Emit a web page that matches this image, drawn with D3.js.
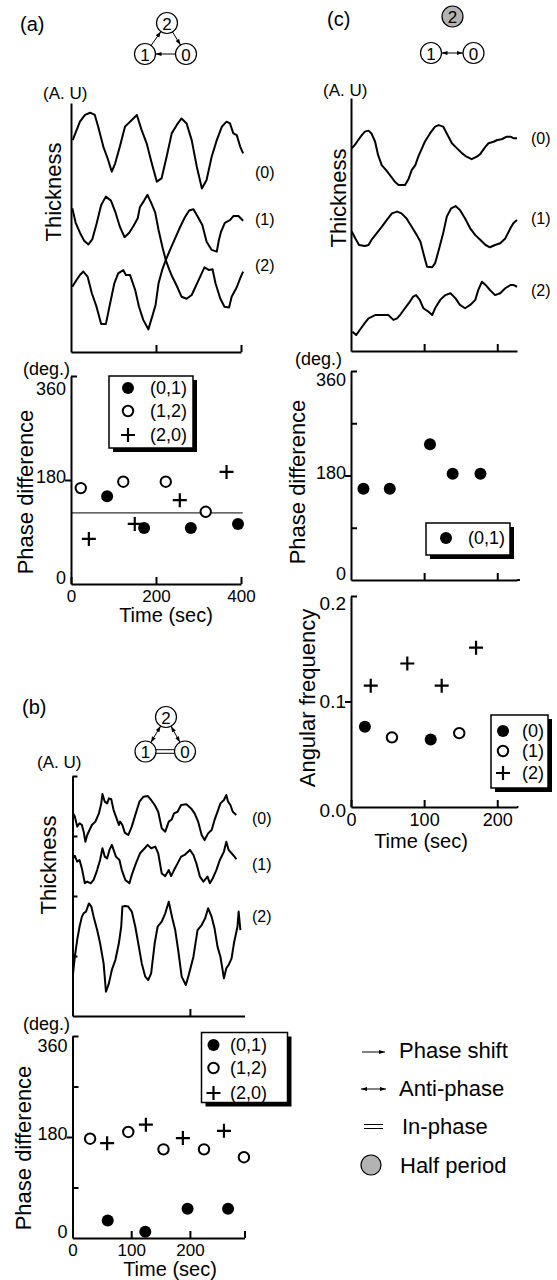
<!DOCTYPE html>
<html>
<head>
<meta charset="utf-8">
<script src="https://cdn.jsdelivr.net/npm/d3@7"></script>
<style>
body { margin: 0; background: #fff; }
svg { display: block; font-family: "Liberation Sans", Arial, Helvetica, sans-serif; }
</style>
</head>
<body>
<script>
// ---------- data ----------
// (a) thickness traces: [time (sec), thickness (A.U.)]
var aTrace0 = [[4,85.1],[21,92.5],[33,95.2],[45,96.1],[56,95.2],[64,90.5],[76,82.5],[86,77.8],[96,72.4],[104,75.8],[115,82.5],[127,90.5],[139,92.5],[155,95.2],[166,89.2],[178,83.8],[190,75.8],[202,68.4],[213,69.7],[225,78.4],[237,87.8],[249,91.2],[260,93.8],[272,91.8],[284,85.1],[296,74.4],[308,65.7],[319,69.1],[331,78.4],[343,85.1],[355,90.5],[366,92.5],[374,91.8],[382,87.8],[390,87.1],[398,82.5],[405,79.8]];
var aTrace1 = [[3,57.7],[11,51.9],[21,47.9],[31,44.7],[41,43.2],[50,45.2],[60,51.4],[71,59.0],[82,62.4],[94,60.8],[104,56.4],[115,50.3],[126,46.1],[137,47.9],[147,50.6],[157,53.7],[162,58.1],[172,60.8],[180,63.1],[190,59.4],[198,56.1],[206,49.0],[215,42.3],[223,36.9],[231,33.2],[238,30.3],[249,26.5],[260,22.2],[272,21.4],[284,22.9],[293,26.2],[304,30.3],[314,34.0],[325,32.9],[333,33.2],[340,27.6],[351,21.6],[361,18.2],[372,17.9],[378,22.2],[390,26.0],[398,29.6],[405,32.3]];
var aTrace2 = [[3,26.2],[13,28.9],[21,30.9],[29,32.3],[39,30.3],[49,23.6],[60,18.2],[71,11.2],[82,11.2],[92,19.5],[102,27.6],[111,31.6],[123,32.9],[129,30.9],[139,30.9],[151,24.9],[160,18.2],[170,12.9],[182,9.1],[191,14.2],[199,18.9],[206,27.6],[215,33.2],[223,36.9],[233,41.0],[245,45.6],[257,50.3],[268,54.1],[278,56.8],[288,57.3],[298,54.4],[309,51.0],[319,44.3],[331,41.0],[343,40.3],[348,45.0],[353,48.3],[362,51.9],[374,53.0],[382,54.6],[394,54.6],[405,52.7]];

// (a) phase difference (deg.)
var aTime01 = [85, 172, 282, 393];
var aPhase01 = [152, 97, 97, 104];
var aTime12 = [23, 123, 223, 317];
var aPhase12 = [166, 177, 177, 125];
var aTime20 = [42, 150, 256, 366];
var aPhase20 = [78, 104, 145, 194];
var aRefPhase = 123;

// (b) thickness traces
var bTrace0 = [[1,84.4],[4,83.1],[8,78.9],[12,80.3],[16,79.6],[19,76.8],[22,72.6],[25,75.4],[29,77.5],[33,79.6],[39,81.0],[45,84.4],[49,88.6],[51,92.5],[55,89.3],[59,88.6],[62,90.7],[66,90.3],[70,85.8],[74,83.1],[79,79.6],[81,81.0],[85,79.6],[89,76.4],[95,75.4],[101,78.9],[107,83.8],[114,89.3],[121,91.4],[128,91.7],[134,90.0],[140,87.9],[146,85.1],[152,78.2],[158,76.8],[164,81.0],[169,81.9],[173,84.4],[179,85.1],[185,87.9],[194,88.2],[202,86.5],[208,84.4],[214,81.0],[220,75.4],[225,73.3],[231,76.1],[237,77.5],[242,81.7],[248,85.8],[252,88.6],[258,90.0],[262,92.1],[265,89.3],[269,87.9],[273,85.1],[279,83.8]];
var bTrace1 = [[1,65.7],[4,66.7],[8,64.3],[12,65.0],[16,61.5],[21,55.3],[25,56.0],[31,55.3],[36,56.7],[42,60.8],[47,65.0],[51,69.9],[55,66.4],[59,65.7],[63,69.2],[67,71.3],[70,69.2],[74,66.4],[80,65.0],[84,60.8],[90,56.7],[97,55.3],[101,58.8],[108,63.6],[115,67.8],[123,69.9],[128,71.3],[134,69.9],[141,70.6],[146,67.8],[152,59.4],[158,58.3],[164,60.8],[168,58.3],[173,60.8],[179,63.6],[185,66.4],[191,67.1],[200,69.2],[206,67.1],[211,63.6],[217,58.1],[223,56.0],[230,58.1],[234,55.3],[239,57.4],[245,60.8],[251,65.0],[258,68.5],[262,72.6],[266,69.2],[271,67.8],[276,66.4],[279,65.3]];
var bTrace2 = [[1,17.8],[4,24.7],[8,31.7],[12,37.2],[16,41.4],[19,42.8],[23,43.5],[28,46.9],[32,45.6],[36,41.4],[42,35.8],[47,30.3],[53,21.9],[57,10.1],[62,13.6],[67,19.2],[73,23.3],[79,30.3],[83,37.2],[85,45.6],[90,45.8],[95,45.6],[101,43.5],[107,37.2],[112,30.3],[118,21.9],[124,16.4],[129,15.0],[134,17.8],[140,30.3],[145,37.2],[152,39.3],[158,42.8],[164,47.6],[170,40.7],[175,35.8],[180,27.5],[186,16.4],[193,12.9],[198,17.1],[206,24.7],[213,35.8],[220,37.9],[226,40.7],[231,44.9],[237,41.4],[242,36.5],[247,28.9],[252,24.7],[258,15.7],[262,19.9],[266,21.3],[271,24.0],[275,30.3],[281,37.2],[283,43.5],[286,35.8]];

// (b) phase difference (deg.)
var bTime01 = [60, 124, 196, 265];
var bPhase01 = [31, 11, 52, 52];
var bTime12 = [30, 95, 155, 224, 292];
var bPhase12 = [177, 189, 158, 158, 144];
var bTime20 = [59, 125, 188, 258];
var bPhase20 = [169, 202, 178, 191];

// (c) thickness traces
var cTrace0 = [[1,80.1],[5,81.4],[10,83.4],[15,85.4],[19,86.7],[24,87.1],[28,86.0],[33,82.7],[37,77.5],[42,73.5],[48,71.5],[53,69.6],[60,66.9],[65,65.6],[74,65.6],[79,68.2],[83,71.5],[88,73.5],[92,76.8],[97,80.1],[101,82.7],[108,86.0],[115,88.7],[120,89.3],[126,88.7],[131,86.0],[138,82.1],[145,80.1],[152,78.1],[158,76.8],[165,75.8],[172,76.8],[177,77.9],[179,78.8],[184,80.8],[188,82.1],[195,82.7],[200,83.4],[206,83.7],[213,84.7],[218,84.7],[222,84.1],[227,84.1]];
var cTrace1 = [[1,47.2],[6,44.5],[11,41.9],[19,41.5],[24,41.9],[28,43.9],[35,46.5],[42,49.1],[49,51.8],[56,54.4],[63,55.1],[69,54.4],[76,52.4],[83,49.1],[90,45.8],[95,43.2],[99,38.6],[104,33.3],[111,33.1],[115,34.7],[120,39.9],[126,46.5],[131,53.1],[137,56.4],[143,57.3],[149,55.7],[156,52.4],[163,48.5],[170,45.8],[177,43.9],[184,41.9],[190,41.0],[197,41.9],[204,42.6],[211,44.5],[218,48.5],[222,50.5],[227,51.8]];
var cTrace2 = [[2,7.6],[7,6.3],[12,8.3],[19,11.1],[24,12.9],[33,14.2],[51,14.2],[58,12.3],[63,12.9],[67,14.2],[72,16.2],[79,18.9],[85,21.5],[89,22.1],[94,20.2],[99,16.9],[106,15.5],[111,14.2],[115,16.9],[122,20.2],[129,22.1],[136,22.8],[143,20.8],[149,18.2],[156,16.9],[163,18.2],[170,20.2],[174,24.1],[179,27.4],[184,26.1],[190,24.1],[197,22.1],[204,22.8],[211,24.8],[218,26.1],[222,26.1],[227,25.4]];

// (c) phase difference (deg.)
var cTime01 = [17, 53, 108, 139, 177];
var cPhase01 = [157, 157, 234, 183, 183];

// (c) angular frequency
var cFreqTime0 = [19, 109];
var cFreq0 = [0.076, 0.064];
var cFreqTime1 = [56, 148];
var cFreq1 = [0.066, 0.070];
var cFreqTime2 = [27, 77, 124, 171];
var cFreq2 = [0.115, 0.136, 0.115, 0.151];

var traceNames = ["(0)", "(1)", "(2)"];
var pairNames = ["(0,1)", "(1,2)", "(2,0)"];
var legendNotes = ["Phase shift", "Anti-phase", "In-phase", "Half period"];

// ---------- drawing ----------
var svg = d3.select("body").append("svg").attr("width", 557).attr("height", 1280);

svg.append("defs").append("marker")
    .attr("id", "head")
    .attr("viewBox", "0 0 10 10")
    .attr("refX", 10).attr("refY", 5)
    .attr("markerWidth", 6).attr("markerHeight", 6)
    .attr("markerUnits", "userSpaceOnUse")
    .attr("orient", "auto-start-reverse")
    .append("path").attr("d", "M0,1.5L10,5L0,8.5Z").attr("fill", "#000");

function text(x, y, s, size, anchor) {
    return svg.append("text").attr("x", x).attr("y", y)
        .attr("font-size", size).attr("text-anchor", anchor || "start")
        .attr("dominant-baseline", "central").attr("fill", "#000").text(s);
}

function vtext(x, y, s, size) {
    return svg.append("text").attr("transform", "translate(" + x + "," + y + ") rotate(-90)")
        .attr("font-size", size).attr("text-anchor", "middle")
        .attr("dominant-baseline", "central").attr("fill", "#000").text(s);
}

function drawAxis(axis, tx, ty, keepDomain, fontSize) {
    var a = svg.append("g").attr("transform", "translate(" + tx + "," + ty + ")").call(axis);
    a.attr("font-family", null).attr("font-size", null);
    a.selectAll("path, line").attr("stroke", "#000").attr("stroke-width", 2);
    if (!keepDomain) a.select(".domain").remove();
    if (fontSize) a.selectAll("text").attr("font-size", fontSize).attr("fill", "#000");
    else a.selectAll("text").remove();
    return a;
}

function trace(data, x, y) {
    svg.append("path").datum(data)
        .attr("d", d3.line().x(function(d) { return x(d[0]); }).y(function(d) { return y(d[1]); }))
        .attr("fill", "none").attr("stroke", "#000").attr("stroke-width", 2)
        .attr("stroke-linejoin", "round");
}

function filled(px, py) {
    svg.append("circle").attr("cx", px).attr("cy", py).attr("r", 6).attr("fill", "#000");
}
function open(px, py) {
    svg.append("circle").attr("cx", px).attr("cy", py).attr("r", 5.2)
        .attr("fill", "#fff").attr("stroke", "#000").attr("stroke-width", 2);
}
function plus(px, py) {
    svg.append("path").attr("d", "M" + (px - 7) + "," + py + "h14M" + px + "," + (py - 7) + "v14")
        .attr("stroke", "#000").attr("stroke-width", 2.2).attr("fill", "none");
}

function points(ts, vs, x, y, mark) {
    d3.zip(ts, vs).forEach(function(d) { mark(x(d[0]), y(d[1])); });
}

// white box with a black drop shadow
function legendBox(bx, by, w, h) {
    svg.append("rect").attr("x", bx + 4).attr("y", by + 4).attr("width", w).attr("height", h).attr("fill", "#000");
    svg.append("rect").attr("x", bx).attr("y", by).attr("width", w).attr("height", h)
        .attr("fill", "#fff").attr("stroke", "#000").attr("stroke-width", 1.5);
}

function phaseYLabels(y, ax, top) {
    var off = { 360: top, 180: -3, 0: -6 };
    [360, 180, 0].forEach(function(v) { text(ax - 5, y(v) + off[v], v, 18, "end"); });
}

function network(nodes, edges) {
    var r = 10.5;
    edges.forEach(function(e) {
        var a = nodes[e[0]], b = nodes[e[1]];
        var dx = b[0] - a[0], dy = b[1] - a[1], L = Math.hypot(dx, dy);
        var ux = dx / L, uy = dy / L;
        var x1 = a[0] + ux * r, y1 = a[1] + uy * r, x2 = b[0] - ux * r, y2 = b[1] - uy * r;
        if (e[2] === "in") {
            [-1.8, 1.8].forEach(function(o) {
                svg.append("line").attr("x1", x1 - uy * o).attr("y1", y1 + ux * o)
                    .attr("x2", x2 - uy * o).attr("y2", y2 + ux * o)
                    .attr("stroke", "#000").attr("stroke-width", 1);
            });
        } else {
            var l = svg.append("line").attr("x1", x1).attr("y1", y1).attr("x2", x2).attr("y2", y2)
                .attr("stroke", "#000").attr("stroke-width", 1).attr("marker-end", "url(#head)");
            if (e[2] === "anti") l.attr("marker-start", "url(#head)");
        }
    });
    Object.keys(nodes).forEach(function(k) {
        var n = nodes[k];
        svg.append("circle").attr("cx", n[0]).attr("cy", n[1]).attr("r", r)
            .attr("fill", n[2] || "#fff").attr("stroke", "#000").attr("stroke-width", 1.2);
        text(n[0], n[1] + 1, k, 17, "middle");
    });
}

// ===== panel (a) =====
text(20, 24, "(a)", 20);
network({ "2": [167, 23], "1": [145, 54], "0": [186, 54] },
    [["1", "2", "shift"], ["2", "0", "shift"], ["0", "1", "shift"]]);

var xA = d3.scaleLinear().domain([0, 400]).range([71, 241]);
var yAt = d3.scaleLinear().domain([0, 100]).range([352, 103]);
drawAxis(d3.axisLeft(yAt).tickValues([]).tickSizeOuter(0), 71, 0, true);
drawAxis(d3.axisBottom(xA).tickValues([200, 400]).tickSizeInner(-7).tickSizeOuter(0), 0, 352, true);
trace(aTrace0, xA, yAt);
trace(aTrace1, xA, yAt);
trace(aTrace2, xA, yAt);
text(255, 172, traceNames[0], 16);
text(255, 219, traceNames[1], 16);
text(255, 265, traceNames[2], 16);
text(43, 93, "(A. U)", 17);
vtext(53, 192, "Thickness", 22);

var yAp = d3.scaleLinear().domain([0, 360]).range([584, 376]);
drawAxis(d3.axisLeft(yAp).tickValues([180]).tickSizeInner(6).tickSizeOuter(0), 71, 0, true);
drawAxis(d3.axisRight(yAp).tickValues([360]).tickSizeInner(6).tickSizeOuter(0), 71, 0, false);
drawAxis(d3.axisBottom(xA).tickValues([0, 200, 400]).tickSizeInner(-7).tickSizeOuter(0).tickPadding(6), 0, 584, true, 17);
phaseYLabels(yAp, 71, 13);
text(70, 369, "(deg.)", 18, "end");
vtext(25, 492, "Phase difference", 22);
text(166, 615, "Time (sec)", 20, "middle");
svg.append("line").attr("x1", xA(0)).attr("x2", xA(404)).attr("y1", yAp(aRefPhase)).attr("y2", yAp(aRefPhase))
    .attr("stroke", "#000").attr("stroke-width", 1);
points(aTime01, aPhase01, xA, yAp, filled);
points(aTime12, aPhase12, xA, yAp, open);
points(aTime20, aPhase20, xA, yAp, plus);
legendBox(109, 376, 84, 72);
filled(128, 388); open(128, 411); plus(128, 435);
text(150, 388, pairNames[0], 18); text(150, 411, pairNames[1], 18); text(150, 435, pairNames[2], 18);

// ===== panel (b) =====
text(22, 707, "(b)", 20);
network({ "2": [166, 717], "1": [145.5, 751.5], "0": [185, 751.5] },
    [["2", "1", "anti"], ["2", "0", "anti"], ["1", "0", "in"]]);

var xB = d3.scaleLinear().domain([0, 293]).range([72.5, 244.5]);
var yBt = d3.scaleLinear().domain([0, 100]).range([1016, 776]);
drawAxis(d3.axisLeft(yBt).tickValues([]).tickSizeOuter(0), 72.5, 0, true);
drawAxis(d3.axisRight(yBt).tickValues([25, 50, 75, 100]).tickSizeInner(5).tickSizeOuter(0), 72.5, 0, false);
drawAxis(d3.axisBottom(xB).tickValues([200]).tickSizeInner(-7).tickSizeOuter(0), 0, 1016, true);
trace(bTrace0, xB, yBt);
trace(bTrace1, xB, yBt);
trace(bTrace2, xB, yBt);
text(252, 818, traceNames[0], 16);
text(252, 864, traceNames[1], 16);
text(252, 916, traceNames[2], 16);
text(37, 762, "(A. U)", 17);
vtext(48, 865, "Thickness", 22);

var yBp = d3.scaleLinear().domain([0, 360]).range([1238, 1036]);
drawAxis(d3.axisLeft(yBp).tickValues([180]).tickSizeInner(6).tickSizeOuter(0), 72.5, 0, true);
drawAxis(d3.axisRight(yBp).tickValues([90, 270, 360]).tickSizeInner(6).tickSizeOuter(0), 72.5, 0, false);
drawAxis(d3.axisBottom(xB).tickValues([0, 100, 200, 293]).tickSizeInner(-7).tickSizeOuter(0).tickPadding(6)
    .tickFormat(function(d) { return d % 100 === 0 ? d : ""; }), 0, 1238, true, 17);
phaseYLabels(yBp, 72.5, 10);
text(70, 1024, "(deg.)", 18, "end");
vtext(23, 1148, "Phase difference", 22);
text(170, 1269, "Time (sec)", 20, "middle");
points(bTime01, bPhase01, xB, yBp, filled);
points(bTime12, bPhase12, xB, yBp, open);
points(bTime20, bPhase20, xB, yBp, plus);
legendBox(201.5, 1032.5, 86, 70);
filled(213.5, 1045); open(213.5, 1068); plus(213.5, 1093);
text(230, 1045, pairNames[0], 18); text(230, 1068, pairNames[1], 18); text(230, 1093, pairNames[2], 18);

// ===== panel (c) =====
text(327, 19, "(c)", 20);
network({ "2": [452.5, 16.5, "#b3b3b3"], "1": [431, 53], "0": [473.5, 53] },
    [["1", "0", "anti"]]);

var xC = d3.scaleLinear().domain([0, 227]).range([351, 517]);
var yCt = d3.scaleLinear().domain([0, 100]).range([351, 98]);
drawAxis(d3.axisLeft(yCt).tickValues([]).tickSizeOuter(0), 351, 0, true);
drawAxis(d3.axisBottom(xC).tickValues([100, 200]).tickSizeInner(-7).tickSizeOuter(0), 0, 351, true);
trace(cTrace0, xC, yCt);
trace(cTrace1, xC, yCt);
trace(cTrace2, xC, yCt);
text(531, 138, traceNames[0], 16);
text(531, 218, traceNames[1], 16);
text(531, 290, traceNames[2], 16);
text(323, 90, "(A. U)", 17);
vtext(338, 198, "Thickness", 22);

var yCp = d3.scaleLinear().domain([0, 360]).range([580, 371]);
drawAxis(d3.axisLeft(yCp).tickValues([180]).tickSizeInner(6).tickSizeOuter(0), 351, 0, true);
drawAxis(d3.axisRight(yCp).tickValues([90, 270, 360]).tickSizeInner(6).tickSizeOuter(0), 351, 0, false);
drawAxis(d3.axisBottom(xC).tickValues([100, 200]).tickSizeInner(-7).tickSizeOuter(0), 0, 580, true);
svg.append("line").attr("x1", xC(227)).attr("x2", xC(231)).attr("y1", 580).attr("y2", 580)
    .attr("stroke", "#000").attr("stroke-width", 2);
phaseYLabels(yCp, 351, 9);
text(342, 359, "(deg.)", 18, "end");
vtext(297, 482, "Phase difference", 22);
points(cTime01, cPhase01, xC, yCp, filled);
legendBox(426, 523, 84, 32);
filled(446, 538);
text(468, 538, pairNames[0], 18);

var yCf = d3.scaleLinear().domain([0, 0.2]).range([807, 596]);
drawAxis(d3.axisLeft(yCf).tickValues([0.1]).tickSizeInner(6).tickSizeOuter(0), 351, 0, true);
drawAxis(d3.axisRight(yCf).tickValues([0.2]).tickSizeInner(6).tickSizeOuter(0), 351, 0, false);
drawAxis(d3.axisBottom(xC).tickValues([0, 100, 200]).tickSizeInner(-7).tickSizeOuter(0).tickPadding(6), 0, 807, true, 18);
svg.append("line").attr("x1", xC(227)).attr("x2", xC(229)).attr("y1", 807).attr("y2", 807)
    .attr("stroke", "#000").attr("stroke-width", 2);
text(346, yCf(0.2) + 7, "0.2", 19, "end");
text(346, yCf(0.1), "0.1", 19, "end");
text(346, yCf(0) + 3, "0.0", 19, "end");
vtext(307, 698, "Angular frequency", 22);
text(421, 841, "Time (sec)", 20, "middle");
points(cFreqTime0, cFreq0, xC, yCf, filled);
points(cFreqTime1, cFreq1, xC, yCf, open);
points(cFreqTime2, cFreq2, xC, yCf, plus);
legendBox(491, 715, 57, 73);
filled(503, 731); open(503, 751); plus(503, 773);
text(522, 731, traceNames[0], 18); text(522, 751, traceNames[1], 18); text(522, 773, traceNames[2], 18);

// ===== symbol legend =====
svg.append("line").attr("x1", 362).attr("x2", 385).attr("y1", 1052).attr("y2", 1052)
    .attr("stroke", "#000").attr("stroke-width", 1).attr("marker-end", "url(#head)");
svg.append("line").attr("x1", 361).attr("x2", 386).attr("y1", 1089).attr("y2", 1089)
    .attr("stroke", "#000").attr("stroke-width", 1)
    .attr("marker-end", "url(#head)").attr("marker-start", "url(#head)");
[1124.5, 1128.5].forEach(function(yy) {
    svg.append("line").attr("x1", 364).attr("x2", 383).attr("y1", yy).attr("y2", yy)
        .attr("stroke", "#000").attr("stroke-width", 1);
});
svg.append("circle").attr("cx", 371).attr("cy", 1165).attr("r", 10)
    .attr("fill", "#b3b3b3").attr("stroke", "#000").attr("stroke-width", 1.2);
text(399, 1050, legendNotes[0], 22);
text(399, 1088, legendNotes[1], 22);
text(402, 1126, legendNotes[2], 22);
text(400, 1165, legendNotes[3], 22);
</script>
</body>
</html>
